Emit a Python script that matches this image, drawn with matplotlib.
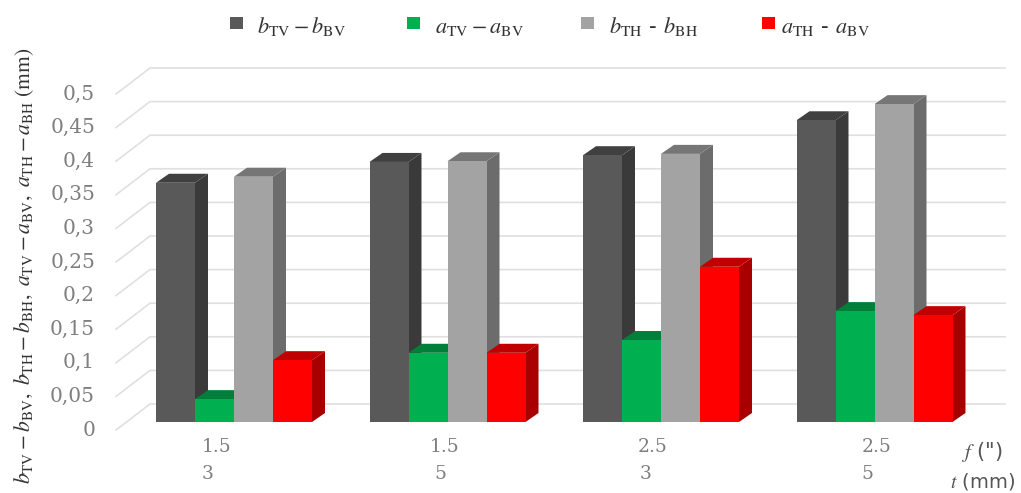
import matplotlib
matplotlib.use('Agg')
import matplotlib.pyplot as plt
from matplotlib.patches import Rectangle

plt.rcParams['font.family'] = 'DejaVu Serif'
plt.rcParams['mathtext.fontset'] = 'stix'

# 数据
f_labels = ['1.5', '1.5', '2.5', '2.5']
t_labels = ['3', '5', '3', '5']
b_tv_bv = [0.356, 0.387, 0.397, 0.449]
a_tv_bv = [0.034, 0.103, 0.122, 0.165]
b_th_bh = [0.365, 0.388, 0.399, 0.473]
a_th_bv = [0.092, 0.103, 0.231, 0.159]
y_ticks = [0, 0.05, 0.1, 0.15, 0.2, 0.25, 0.3, 0.35, 0.4, 0.45, 0.5]
y_tick_labels = ['0', '0,05', '0,1', '0,15', '0,2', '0,25', '0,3', '0,35', '0,4', '0,45', '0,5']

series = [b_tv_bv, a_tv_bv, b_th_bh, a_th_bv]
names = [r'$b_{\mathrm{TV}} - b_{\mathrm{BV}}$', r'$a_{\mathrm{TV}} - a_{\mathrm{BV}}$',
         r'$b_{\mathrm{TH}}$ - $b_{\mathrm{BH}}$', r'$a_{\mathrm{TH}}$ - $a_{\mathrm{BV}}$']
front_colors = ['#595959', '#00b050', '#a3a3a3', '#ff0000']
side_colors = ['#3a3a3a', '#007a38', '#6c6c6c', '#a80000']
top_colors = ['#404040', '#007f3a', '#767676', '#c00000']

W, H = 1021, 493

# 画布上的像素位置换算
def fx(px):
    return px / W

def fy(py):
    return 1 - py / H

fig = plt.figure(figsize=(W / 100, H / 100), dpi=100)
ax = fig.add_axes([0, 0, 1, 1])
ax.set_xlim(-234 / 213.5, (W - 234) / 213.5)
ax.set_ylim((422 - H) / 672, 422 / 672)
ax.axis('off')

bar_w = 39 / 213.5
depth_x = 13 / 213.5
depth_y = 9 / 672

# 背景网格线，加上左侧斜线
wall_x = (150 - 234) / 213.5
wall_end = (1005 - 234) / 213.5
corner_x = (116 - 234) / 213.5
back_y = 18 / 672
front_y = -8 / 672
for v in y_ticks:
    ax.plot([corner_x, wall_x, wall_end], [v + front_y, v + back_y, v + back_y],
            color='#e0e0e0', lw=1.2, zorder=1)

# 三维柱子：正面 + 侧面 + 顶面
for i in range(4):
    for j in range(4):
        v = series[j][i]
        x0 = i + (j - 2) * bar_w
        x1 = x0 + bar_w
        z = 2 + i * 4 + j
        ax.fill([x1, x1 + depth_x, x1 + depth_x, x1], [0, depth_y, v + depth_y, v],
                color=side_colors[j], lw=0, zorder=z)
        ax.fill([x0, x0 + depth_x, x1 + depth_x, x1], [v, v + depth_y, v + depth_y, v],
                color=top_colors[j], lw=0, zorder=z)
        ax.bar(x0, v, width=bar_w, align='edge', color=front_colors[j], lw=0, zorder=z)

# y 轴刻度文字
for v, s in zip(y_ticks, y_tick_labels):
    ax.text((95 - 234) / 213.5, v + front_y, s, ha='right', va='center',
            fontsize=14.5, color='#7f7f7f')

# x 轴分类文字
f_px = [217, 445, 653, 877]
t_px = [208, 440, 646, 867]
for i in range(4):
    fig.text(fx(f_px[i]), fy(447), f_labels[i], ha='center', va='center', fontsize=13.5, color='#7f7f7f')
    fig.text(fx(t_px[i]), fy(474), t_labels[i], ha='center', va='center', fontsize=13.5, color='#7f7f7f')

fig.text(fx(982), fy(452), r'$f$ (")', ha='center', va='center', fontsize=15, color='#555555',
         family='DejaVu Sans')
fig.text(fx(983), fy(481), r'$t$ (mm)', ha='center', va='center', fontsize=14, color='#555555',
         family='DejaVu Sans')

# 图例
square_px = [230, 407, 581, 762]
text_px = [257, 435, 609, 781]
for j in range(4):
    fig.add_artist(Rectangle((fx(square_px[j]), fy(29)), 13 / W, 12 / H, transform=fig.transFigure,
                             color=front_colors[j], lw=0))
    fig.text(fx(text_px[j]), fy(27), names[j], ha='left', va='center', fontsize=16, color='#333333')

# y 轴标题
fig.text(fx(24), fy(266),
         r'$b_{\mathrm{TV}} - b_{\mathrm{BV}},\ b_{\mathrm{TH}} - b_{\mathrm{BH}},\ '
         r'a_{\mathrm{TV}} - a_{\mathrm{BV}},\ a_{\mathrm{TH}} - a_{\mathrm{BH}}\ (\mathrm{mm})$',
         rotation=90, ha='center', va='center', fontsize=15.5, color='#333333')

plt.savefig('out.png', dpi=100)
